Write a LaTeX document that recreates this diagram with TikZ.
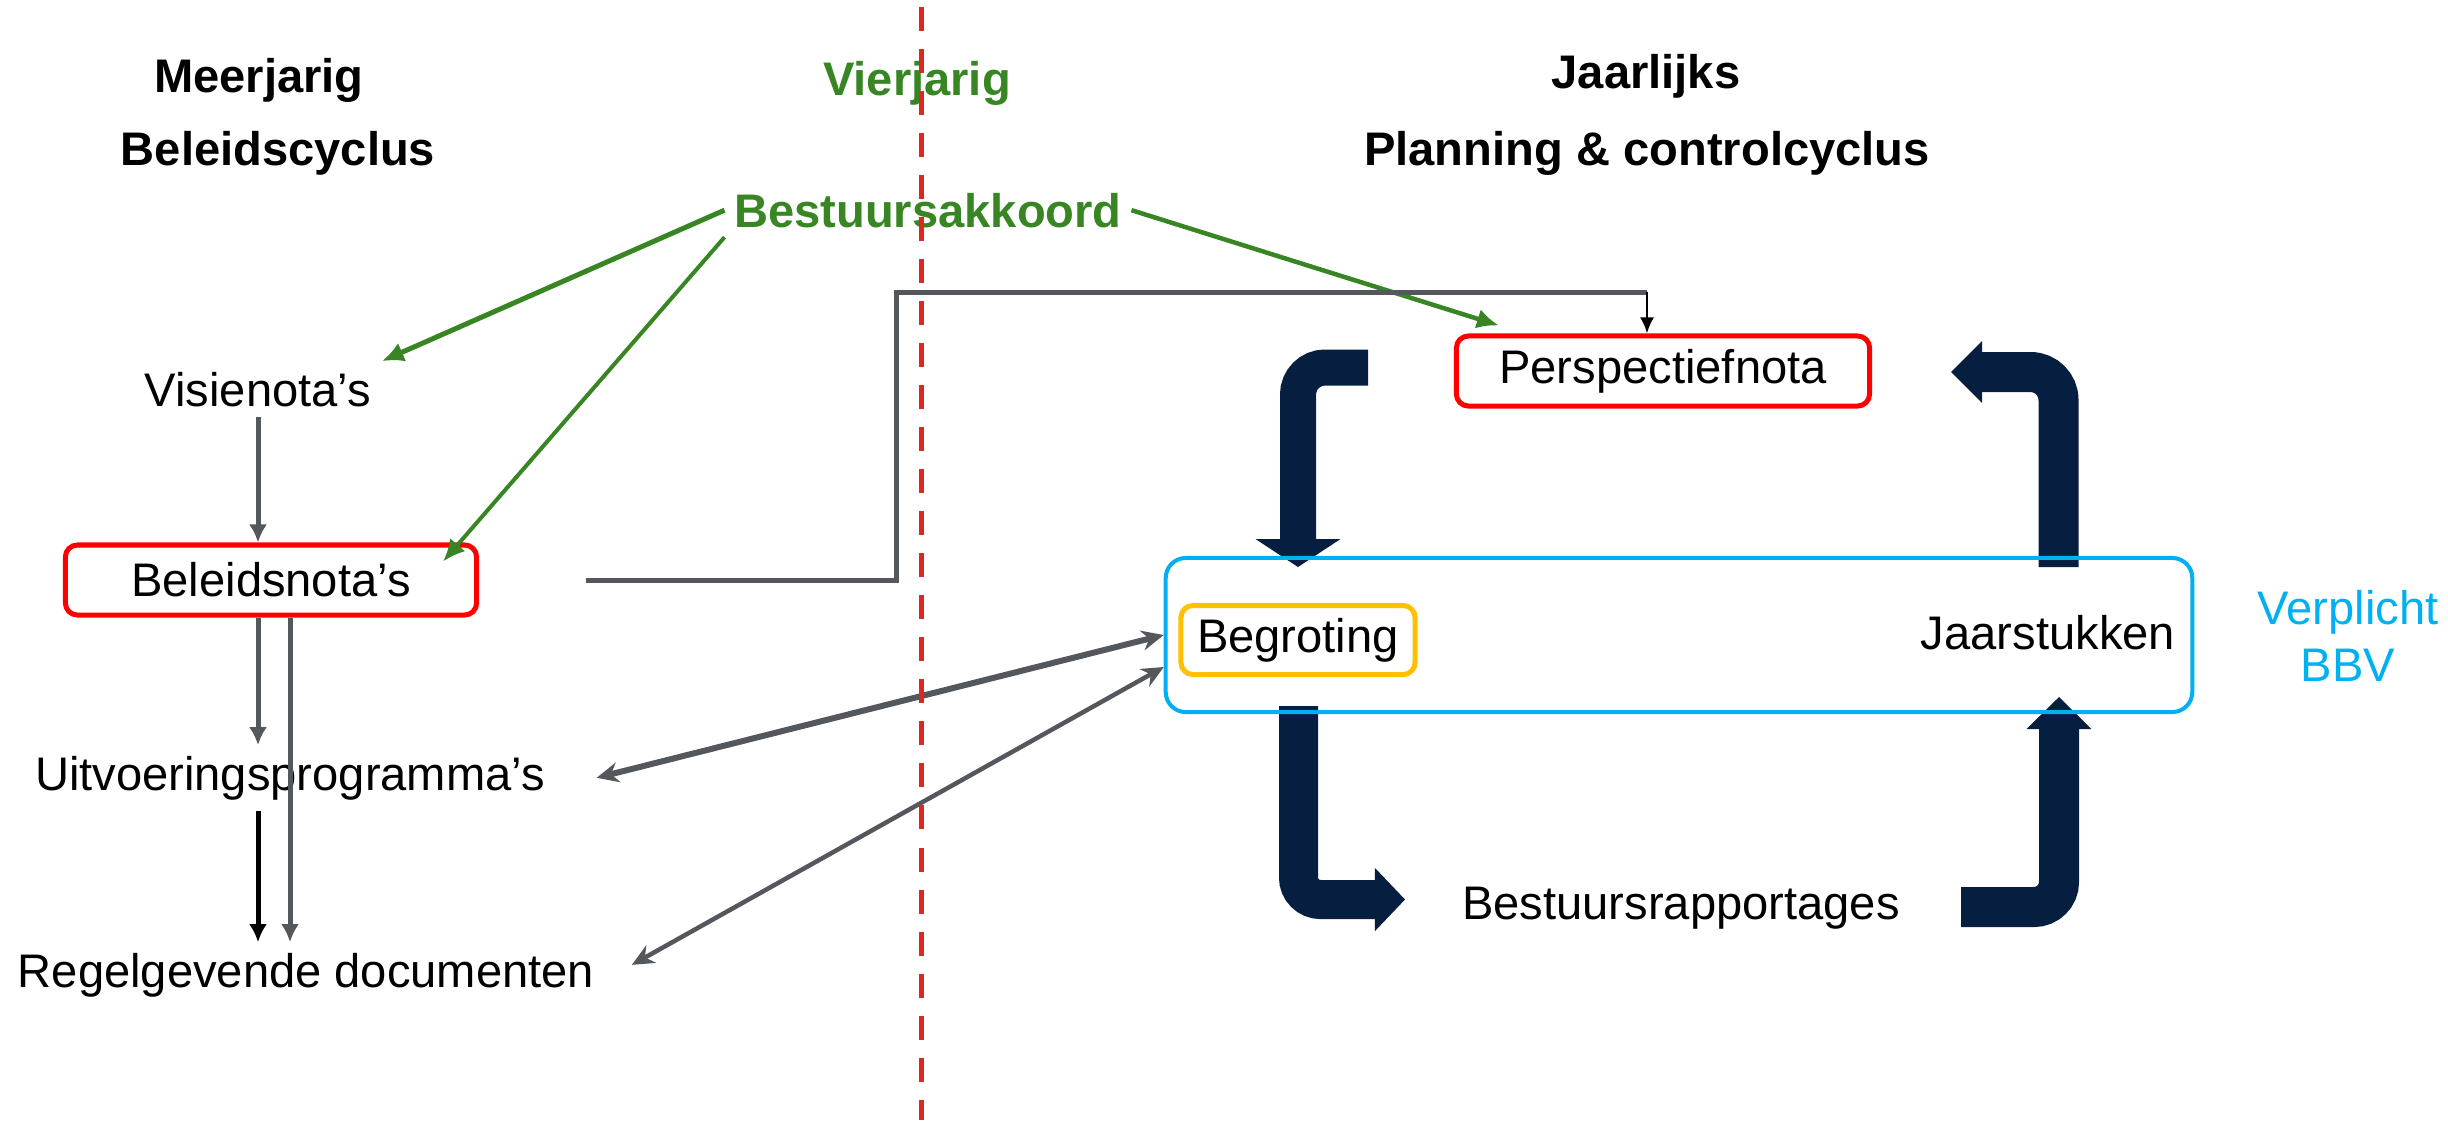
\documentclass[tikz,border=0pt]{standalone}
\usepackage{fontspec}
\setmainfont{Liberation Sans}
\usetikzlibrary{calc,arrows.meta}

\definecolor{navy}{RGB}{6,31,65}
\definecolor{lijngrijs}{RGB}{84,87,92}
\definecolor{groen}{RGB}{55,134,35}
\definecolor{rood}{RGB}{255,0,0}
\definecolor{streep}{RGB}{220,40,30}
\definecolor{geel}{RGB}{255,192,0}
\definecolor{blauw}{RGB}{0,176,240}

\begin{document}
\begin{tikzpicture}[x=0.01cm, y=-0.01cm,
     tekst/.style = {font=\fontsize{13.4}{16.2}\selectfont, inner sep=0.1cm},
     kop/.style = {tekst, font=\fontsize{13.4}{16.2}\selectfont\bfseries},
     nota/.style = {draw=rood, line width=0.05cm, rounded corners=0.12cm, minimum height=0.7cm},
     pijl/.style = {draw=lijngrijs, line width=0.05cm, -{Latex[length=0.18cm, width=0.18cm]}},
     dubbel/.style = {draw=lijngrijs, {Stealth[length=0.22cm, width=0.2cm]}-{Stealth[length=0.22cm, width=0.2cm]}},
     groenpijl/.style = {draw=groen, -{Latex[length=0.22cm, width=0.2cm]}},
     cyclus/.style = {draw=navy, rounded corners=0.27cm}
    ]
    \useasboundingbox (0,0) rectangle (2448,1120);

    % koppen
    \node [kop, anchor=base] (meerjarig) at (259,92) {Meerjarig};
    \node [kop, anchor=base] (beleidscyclus) at (278,165) {Beleidscyclus};
    \node [kop, anchor=base, text=groen] (vierjarig) at (917,95) {Vierjarig};
    \node [kop, anchor=base, text=groen, inner sep=0.09cm] (akkoord) at (928,227) {Bestuursakkoord};
    \node [kop, anchor=base] (jaarlijks) at (1646,88) {Jaarlijks};
    \node [kop, anchor=base] (pc) at (1647,165) {Planning \& controlcyclus};

    % beleidscyclus
    \node [tekst, anchor=base] (visie) at (258,406) {Visienota’s};
    \node [nota, tekst, minimum width=4.11cm] (beleid) at (271,580) {Beleidsnota’s};
    \node [tekst, anchor=base] (uitv) at (290,790) {Uitvoeringsprogramma’s};
    \node [tekst, anchor=base] (regel) at (306,987) {Regelgevende documenten};

    % cyclus pijlen
    \draw [cyclus, line width=0.36cm, -{Triangle[length=0.28cm, width=0.85cm, line width=0pt]}]
      (1368,367.5) -- (1298,367.5) -- (1298,567);
    \draw [cyclus, line width=0.4cm, rounded corners=0.28cm, -{Triangle[length=0.31cm, width=0.62cm, line width=0pt]}]
      (2058.5,567) -- (2058.5,372) -- (1951,372);
    \draw [cyclus, line width=0.39cm, rounded corners=0.22cm, -{Triangle[length=0.3cm, width=0.63cm, line width=0pt]}]
      (1298.5,706) -- (1298.5,899.5) -- (1405,899.5);
    \draw [cyclus, line width=0.4cm, rounded corners=0.25cm, -{Triangle[length=0.32cm, width=0.65cm, line width=0pt]}]
      (1961,907) -- (2059,907) -- (2059,697);

    % planning & control
    \node [nota, tekst, minimum width=4.13cm] (persp) at (1663,371) {Perspectiefnota};
    \node [draw=blauw, line width=0.04cm, rounded corners=0.2cm, minimum width=10.26cm, minimum height=1.54cm] (bbv) at (1679,635) {};
    \node [tekst, draw=geel, line width=0.05cm, rounded corners=0.12cm, minimum width=2.34cm, minimum height=0.69cm] (begroting) at (1298,640) {Begroting};
    \node [tekst, anchor=base] (jaarstukken) at (2048,649) {Jaarstukken};
    \node [tekst, text=blauw, align=center] (verplicht) at (2348,636) {Verplicht\\BBV};
    \node [tekst, anchor=base] (rapportages) at (1681,919) {Bestuursrapportages};

    % bestuursakkoord
    \draw [groenpijl, line width=0.05cm] (akkoord.west) -- (visie.north east);
    \draw [groenpijl, line width=0.04cm] (akkoord.south west) -- ($(beleid.north east)+(-36,19)$);
    \draw [groenpijl, line width=0.045cm] (akkoord.east) -- ($(persp.north west)+(45,-8)$);

    % beleidsdocumenten
    \coordinate (lang) at ($(beleid.south)+(19,0)$);
    \draw [pijl] (visie.south) -- (visie.south |- beleid.north);
    \draw [pijl] (beleid.south -| visie.south) -- (visie.south |- uitv.north);
    \draw [pijl] (lang) -- (lang |- regel.north);
    \draw [pijl, draw=black] (uitv.south -| visie.south) -- (visie.south |- regel.north);

    % naar perspectiefnota
    \coordinate (hoek) at (896,292);
    \coordinate (pnorth) at ($(persp.north)+(-16,0)$);
    \draw [draw=lijngrijs, line width=0.05cm] ($(beleid.east)+(107,0)$) -| (hoek) -- (hoek -| pnorth);
    \draw [-{Latex[length=0.16cm, width=0.14cm]}, line width=0.025cm] (hoek -| pnorth) -- (pnorth);

    % naar begroting
    \draw [dubbel, line width=0.06cm] ($(uitv.east)+(41,0)$) -- (bbv.west);
    \draw [dubbel, line width=0.045cm] ($(regel.east)+(27,-10)$) -- ($(bbv.west)+(0,32)$);

    % scheiding
    \draw [streep, line width=0.05cm, dash pattern=on 0.24cm off 0.18cm] (921,7) -- (921,1120);
\end{tikzpicture}
\end{document}
